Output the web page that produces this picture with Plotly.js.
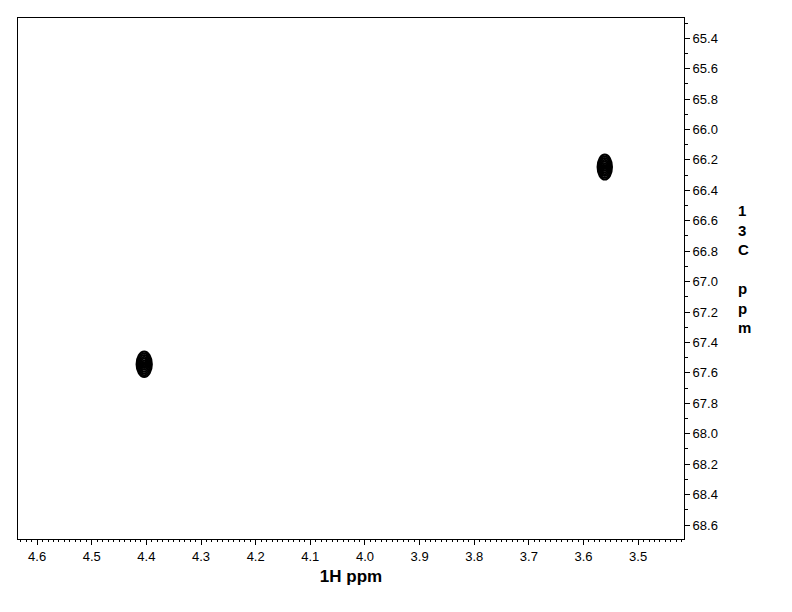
<!DOCTYPE html>
<html>
<head>
<meta charset="utf-8">
<script src="https://cdn.plot.ly/plotly-3.0.1.min.js"></script>
<style>html,body{margin:0;padding:0;background:#fff;}#chart{width:792px;height:612px;}</style>
</head>
<body>
<div id="chart"></div>
<script>
// Cross peaks (1H ppm, 13C ppm) and their outer contour half-widths (ppm)
const peakH = [3.561, 4.404];
const peakC = [66.247, 67.543];
const halfWidthH = [0.0132, 0.0140];
const halfWidthC = [0.082, 0.084];
// relative contour levels (fraction of outer contour size)
const contourLevels = [1.0, 0.86, 0.72, 0.58, 0.44, 0.30, 0.16];

const xTickVals = [4.6, 4.5, 4.4, 4.3, 4.2, 4.1, 4.0, 3.9, 3.8, 3.7, 3.6, 3.5];
const xTickText = ["4.6","4.5","4.4","4.3","4.2","4.1","4.0","3.9","3.8","3.7","3.6","3.5"];
const yTickVals = [65.4,65.6,65.8,66.0,66.2,66.4,66.6,66.8,67.0,67.2,67.4,67.6,67.8,68.0,68.2,68.4,68.6];
const yTickText = yTickVals.map(v => v.toFixed(1));

const shapes = [];
for (let i = 0; i < peakH.length; i++) {
  contourLevels.forEach(f => {
    shapes.push({
      type: 'circle', xref: 'x', yref: 'y',
      x0: peakH[i] - halfWidthH[i] * f, x1: peakH[i] + halfWidthH[i] * f,
      y0: peakC[i] - halfWidthC[i] * f, y1: peakC[i] + halfWidthC[i] * f,
      line: {color: '#000', width: 2}, fillcolor: 'rgba(0,0,0,0)'
    });
  });
}

const trace = {
  x: peakH, y: peakC, type: 'scatter', mode: 'markers',
  marker: {size: 3, color: '#000'}, hoverinfo: 'x+y', showlegend: false
};

const font = {family: 'Arial, "Liberation Sans", sans-serif', color: '#000'};
const layout = {
  width: 792, height: 612,
  margin: {l: 18, r: 108, t: 18, b: 73},
  paper_bgcolor: '#fff', plot_bgcolor: '#fff',
  showlegend: false,
  xaxis: {
    range: [4.635, 3.416], showgrid: false, zeroline: false,
    showline: true, mirror: true, linecolor: '#000', linewidth: 1,
    ticks: 'outside', ticklen: 5, tickwidth: 1, tickcolor: '#000',
    tickmode: 'array', tickvals: xTickVals, ticktext: xTickText,
    tickfont: Object.assign({}, font, {size: 13}),
    minor: {dtick: 0.01, ticks: 'outside', ticklen: 2, tickcolor: '#000', showgrid: false},
    title: {text: '1H ppm', font: Object.assign({}, font, {size: 17, weight: 'bold'}), standoff: 7}
  },
  yaxis: {
    range: [68.692, 65.267], side: 'right', showgrid: false, zeroline: false,
    showline: true, mirror: true, linecolor: '#000', linewidth: 1,
    ticks: 'outside', ticklen: 5, tickwidth: 1, tickcolor: '#000',
    tickmode: 'array', tickvals: yTickVals, ticktext: yTickText,
    tickfont: Object.assign({}, font, {size: 13}),
    minor: {dtick: 0.1, ticks: 'outside', ticklen: 3, tickcolor: '#000', showgrid: false}
  },
  shapes: shapes,
  annotations: [{
    xref: 'paper', yref: 'paper', x: 1.078, y: 0.518, xanchor: 'left', yanchor: 'middle',
    align: 'left', showarrow: false,
    text: '1<br>3<br>C<br> <br>p<br>p<br>m',
    font: Object.assign({}, font, {size: 15, weight: 'bold'})
  }]
};

Plotly.newPlot('chart', [trace], layout, {displayModeBar: false, staticPlot: true});
</script>
</body>
</html>
